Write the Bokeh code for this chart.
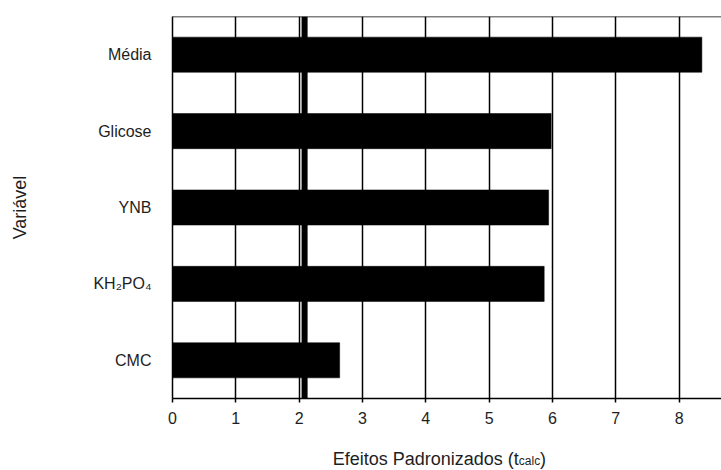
from bokeh.plotting import figure
from bokeh.layouts import column
from bokeh.models import Range1d, FixedTicker, Span
from bokeh.core.properties import value
from bokeh.embed import file_html
from bokeh.resources import INLINE

# Variáveis do planejamento (de baixo para cima) e seus efeitos padronizados
variaveis = ["CMC", "KH₂PO₄", "YNB", "Glicose", "Média"]
efeitos = [2.64, 5.87, 5.94, 5.98, 8.36]
t_critico = 2.086
x_ticks = [0, 1, 2, 3, 4, 5, 6, 7, 8]

FONTE = "Liberation Sans"
COR_TEXTO = "#1e1e1e"

# larguras aproximadas (em "em") dos caracteres da fonte, para compor o índice
LARG = {
    "E": 0.667, "P": 0.667, " ": 0.278, "(": 0.333, ")": 0.333,
    "f": 0.278, "e": 0.556, "i": 0.222, "t": 0.278, "o": 0.556, "s": 0.5,
    "a": 0.556, "d": 0.556, "r": 0.333, "n": 0.556, "z": 0.5, "c": 0.5,
    "l": 0.222,
}


def largura(texto, tam):
    return sum(LARG.get(ch, 0.56) for ch in texto) * tam


posicoes = list(range(len(variaveis)))
x_range = Range1d(0, 8.67)

p = figure(
    width=721, height=430,
    output_backend="svg", toolbar_location=None,
    x_range=x_range,
    y_range=Range1d(-0.5, len(variaveis) - 0.5),
    min_border_left=172, min_border_right=0,
    min_border_top=16, min_border_bottom=32,
)
p.outline_line_color = None
p.background_fill_color = "white"
p.border_fill_color = "white"

# grade vertical nos valores inteiros
p.xgrid.grid_line_color = "black"
p.xgrid.grid_line_width = 1.5
p.xgrid.grid_line_alpha = 1.0
p.ygrid.visible = False

# barras horizontais
p.hbar(y=posicoes, right=efeitos, left=0, height=0.46,
       fill_color="black", line_color="black", line_width=0.5)

# valor crítico de t
p.add_layout(Span(location=t_critico, dimension="height",
                  line_color="black", line_width=6))

# borda superior
p.add_layout(Span(location=len(variaveis) - 0.5, dimension="width",
                  line_color="black", line_width=1.5))

# eixo x
xa = p.xaxis[0]
xa.ticker = FixedTicker(ticks=x_ticks)
xa.axis_line_color = "black"
xa.axis_line_width = 1.5
xa.major_tick_line_color = "black"
xa.major_tick_line_width = 1.5
xa.major_tick_in = 0
xa.major_tick_out = 4
xa.minor_tick_line_color = None
xa.major_label_text_font = FONTE
xa.major_label_text_font_size = "16px"
xa.major_label_text_color = COR_TEXTO
xa.major_label_standoff = 9

# eixo y com os nomes das variáveis
ya = p.yaxis[0]
ya.ticker = FixedTicker(ticks=posicoes)
ya.major_label_overrides = {pos: nome for pos, nome in zip(posicoes, variaveis)}
ya.axis_line_color = "black"
ya.axis_line_width = 1.5
ya.major_tick_line_color = None
ya.major_tick_in = 0
ya.major_tick_out = 0
ya.minor_tick_line_color = None
ya.major_label_text_font = FONTE
ya.major_label_text_font_size = "16px"
ya.major_label_text_color = COR_TEXTO
ya.major_label_standoff = 21
ya.axis_label = "Variável"
ya.axis_label_text_font = FONTE
ya.axis_label_text_font_size = "18px"
ya.axis_label_text_font_style = "normal"
ya.axis_label_text_color = COR_TEXTO
ya.axis_label_standoff = 60

# faixa inferior com o título do eixo x: "Efeitos Padronizados (t_calc)"
q = figure(
    width=721, height=40,
    output_backend="svg", toolbar_location=None,
    x_range=x_range, y_range=Range1d(0, 40),
    x_axis_location=None, y_axis_location=None,
    min_border_left=172, min_border_right=0,
    min_border_top=0, min_border_bottom=0,
)
q.outline_line_color = None
q.xgrid.visible = False
q.ygrid.visible = False
q.background_fill_color = "white"
q.border_fill_color = "white"

TAM_TIT = 18
titulo_x = [("Efeitos Padronizados (t", TAM_TIT, 0.0),
            ("calc", 12, -1.5),
            (")", TAM_TIT, 0.0)]
inicio = 2.53  # posição de início do título, em unidades do eixo x
desloc = 0.0
for trecho, tam, dy in titulo_x:
    q.text(x=[inicio], y=[11.5], text=[trecho],
           text_font=value(FONTE), text_font_size=value(f"{tam}px"),
           text_color=COR_TEXTO, text_align="left",
           text_baseline="alphabetic", x_offset=desloc, y_offset=-dy)
    desloc += largura(trecho, tam)

layout = column(p, q, spacing=0)
open("out.html", "w").write(file_html(layout, INLINE))
